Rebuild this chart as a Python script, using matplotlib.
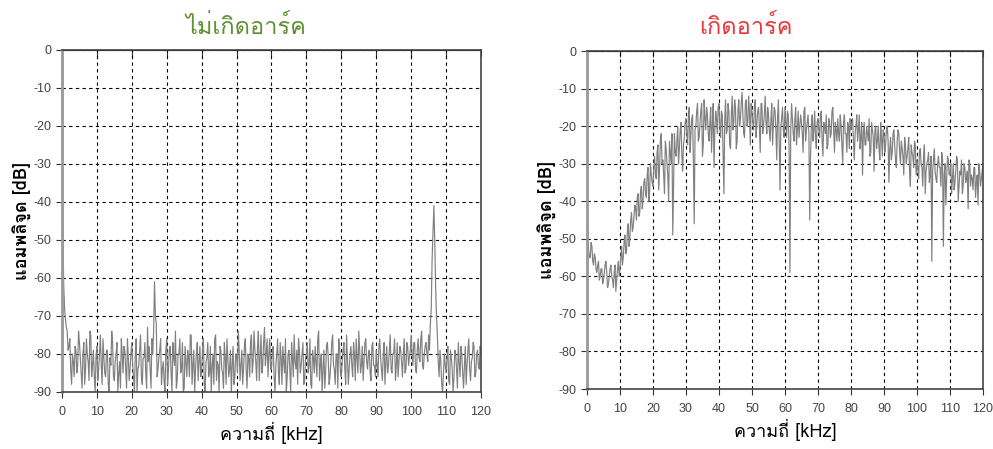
import matplotlib
matplotlib.use("Agg")
import matplotlib.pyplot as plt
from matplotlib import font_manager, ft2font
import numpy as np

# frequency axis (kHz), 0.25 kHz steps
freq = np.arange(0, 120.25, 0.25)

# no arc spectrum [dB] at 0, 0.5, 1.0 ... 120 kHz
no_arc_a = [
    -33, -62, -71, -74, -78, -84, -80, -86, -79, -83, -77, -85, -80, -88, -76, -82, -74, -86, -79, -90,
    -78, -84, -75, -88, -81, -86, -79, -90, -83, -77, -87, -80, -90, -82, -76, -85, -79, -89, -81, -84,
    -77, -86, -80, -90, -83, -75, -88, -81, -85, -73, -78, -89, -80, -61, -72, -84, -79, -88, -82, -90,
    -76, -84, -78, -90, -81, -74, -87, -80, -85, -77, -89, -82, -79, -86, -75, -83, -90, -80, -87, -78,
    -84, -76, -90, -81, -86, -78, -83, -88, -75, -82, -90, -79, -85, -77, -88, -81, -84, -90, -78, -86,
    -80, -74, -87, -79, -84, -76, -89, -81, -77, -85, -74, -82, -78, -87, -75, -83, -73, -80, -86, -76,
    -84, -78, -90, -80, -85, -77, -88, -82, -76, -86, -79, -90, -81, -75, -84, -88, -79, -83, -77, -87,
    -80, -85, -76, -89, -81, -78, -86, -74, -83, -90, -79, -85, -77, -88, -82, -75, -84, -80, -89, -78,
    -86, -79, -84, -75, -88, -80, -83, -77, -87, -81, -74, -85, -78, -82, -76, -84, -79, -87, -77, -83,
    -79, -86, -76, -84, -80, -88, -78, -83, -75, -85, -80, -87, -77, -82, -79, -86, -76, -84, -78, -81,
    -75, -83, -77, -85, -76, -82, -74, -84, -78, -80, -75, -72, -55, -41, -62, -75, -86, -82, -90, -80,
    -85, -78, -88, -81, -90, -79, -84, -77, -86, -80, -89, -78, -83, -76, -87, -81, -78, -85, -79, -84,
    -80,
]
# no arc spectrum [dB] at 0.25, 0.75 ... 119.75 kHz
no_arc_b = [
    -45, -68, -73, -79, -76, -88, -82, -78, -85, -74, -81, -89, -77, -84, -80, -87, -75, -83, -86, -81,
    -87, -80, -83, -76, -85, -79, -88, -81, -74, -86, -82, -77, -85, -89, -80, -78, -84, -76, -87, -80,
    -83, -90, -76, -84, -79, -86, -81, -77, -89, -82, -84, -76, -74, -70, -86, -81, -76, -84, -87, -79,
    -88, -79, -85, -77, -83, -89, -80, -76, -84, -90, -78, -86, -81, -75, -88, -79, -84, -77, -82, -86,
    -79, -88, -82, -77, -85, -90, -80, -76, -87, -83, -78, -84, -89, -81, -76, -86, -79, -83, -88, -80,
    -85, -79, -83, -88, -78, -84, -80, -86, -75, -82, -79, -87, -74, -81, -85, -77, -83, -76, -80, -84,
    -79, -86, -83, -76, -88, -81, -78, -85, -90, -80, -84, -77, -86, -82, -79, -76, -85, -80, -88, -81,
    -77, -83, -88, -79, -85, -82, -76, -87, -80, -84, -89, -78, -81, -86, -77, -83, -88, -80, -76, -85,
    -82, -77, -88, -81, -84, -78, -86, -80, -76, -85, -79, -83, -87, -77, -82, -80, -85, -78, -83, -86,
    -83, -78, -81, -87, -77, -82, -85, -79, -84, -80, -76, -83, -86, -78, -82, -80, -85, -77, -83, -79,
    -80, -77, -84, -79, -81, -76, -83, -80, -77, -82, -79, -68, -48, -50, -70, -82, -79, -88, -85, -83,
    -81, -87, -79, -84, -86, -80, -89, -82, -78, -85, -83, -88, -79, -84, -82, -77, -86, -80, -83, -78,
]

# arc spectrum [dB] at 0, 0.5, 1.0 ... 120 kHz
arc_a = [
    -50, -53, -55, -52, -57, -55, -59, -56, -60, -58, -61, -57, -59, -62, -58, -60, -63, -57, -61, -56,
    -58, -52, -55, -49, -53, -46, -50, -43, -47, -41, -45, -38, -43, -36, -40, -34, -39, -31, -37, -33,
    -36, -28, -34, -25, -31, -22, -29, -38, -26, -33, -24, -30, -49, -22, -28, -20, -26, -19, -32, -23,
    -18, -25, -15, -22, -17, -46, -20, -14, -23, -16, -28, -13, -21, -17, -24, -15, -20, -31, -16, -22,
    -14, -23, -17, -38, -13, -21, -16, -26, -12, -19, -15, -24, -13, -18, -11, -22, -14, -20, -12, -25,
    -16, -21, -13, -19, -15, -27, -14, -20, -12, -22, -17, -24, -14, -19, -16, -29, -13, -37, -18, -21,
    -15, -23, -17, -59, -14, -22, -18, -25, -16, -20, -19, -27, -15, -21, -17, -45, -20, -24, -16, -26,
    -18, -23, -16, -28, -20, -17, -25, -19, -22, -15, -27, -21, -18, -24, -20, -30, -17, -22, -19, -26,
    -21, -18, -29, -20, -24, -17, -23, -33, -19, -25, -22, -18, -27, -21, -32, -20, -24, -26, -19, -28,
    -22, -25, -20, -35, -23, -27, -21, -29, -24, -22, -30, -26, -33, -25, -28, -23, -36, -27, -31, -25,
    -29, -34, -26, -31, -28, -38, -30, -27, -33, -56, -29, -32, -35, -28, -31, -27, -52, -30, -34, -29,
    -33, -38, -30, -35, -28, -40, -32, -29, -36, -31, -34, -42, -30, -33, -37, -31, -35, -41, -32, -34,
    -30,
]
# arc spectrum [dB] at 0.25, 0.75 ... 119.75 kHz
arc_b = [
    -48, -55, -51, -56, -54, -58, -57, -61, -58, -62, -59, -56, -63, -60, -57, -61, -59, -64, -58, -60,
    -55, -57, -51, -54, -48, -52, -45, -48, -44, -42, -39, -44, -37, -42, -35, -38, -33, -40, -30, -35,
    -31, -33, -27, -37, -24, -30, -33, -24, -30, -40, -27, -22, -35, -27, -24, -30, -21, -28, -25, -19,
    -22, -17, -27, -18, -30, -21, -16, -24, -19, -14, -25, -18, -15, -22, -19, -27, -14, -21, -18, -15,
    -20, -16, -28, -18, -22, -14, -25, -17, -21, -13, -26, -16, -20, -14, -17, -23, -13, -19, -16, -14,
    -19, -15, -23, -16, -20, -14, -22, -17, -19, -15, -21, -18, -25, -15, -21, -18, -24, -20, -15, -23,
    -19, -16, -26, -21, -18, -24, -15, -21, -23, -17, -22, -16, -24, -19, -22, -28, -17, -21, -23, -19,
    -21, -17, -24, -19, -22, -26, -18, -23, -16, -21, -19, -24, -22, -17, -25, -19, -22, -27, -20, -18,
    -19, -24, -22, -17, -21, -26, -19, -22, -25, -20, -24, -28, -19, -23, -21, -26, -20, -29, -23, -21,
    -27, -21, -24, -26, -29, -22, -25, -31, -21, -27, -24, -28, -23, -30, -26, -32, -25, -28, -24, -33,
    -31, -27, -30, -36, -25, -32, -29, -35, -28, -32, -26, -34, -30, -31, -36, -29, -33, -41, -28, -33,
    -30, -34, -37, -32, -29, -36, -33, -38, -30, -35, -32, -29, -36, -34, -31, -39, -33, -30, -36, -32,
]

titles = ["ไม่เกิดอาร์ค", "เกิดอาร์ค"]
title_colors = ["#5f9130", "#e8383d"]
xlabel = "ความถี่ [kHz]"
ylabel = "แอมพลิจูด [dB]"
xticks = list(range(0, 121, 10))
yticks = list(range(0, -91, -10))


def merge(a, b):
    out = np.empty(len(a) + len(b))
    out[0::2] = a
    out[1::2] = b
    return out


# look for any installed font that has Thai glyphs
def find_thai_font():
    for f in font_manager.fontManager.ttflist:
        try:
            ft = ft2font.FT2Font(f.fname)
            if 0x0E01 in ft.get_charmap():
                return f.name
        except Exception:
            pass
    return None


thai = find_thai_font()
thai_fams = [thai, "DejaVu Sans"] if thai else ["DejaVu Sans"]
plt.rcParams["font.family"] = ["Liberation Sans Narrow", "Liberation Sans", "DejaVu Sans"]
plt.rcParams["axes.unicode_minus"] = False

fig = plt.figure(figsize=(9.93, 4.49), dpi=100)
boxes = [[0.0624, 0.127, 0.422, 0.762], [0.5911, 0.1336, 0.3988, 0.7528]]
title_x = [0.248, 0.751]
series = [merge(no_arc_a, no_arc_b), merge(arc_a, arc_b)]

for i, data in enumerate(series):
    ax = fig.add_axes(boxes[i])
    ax.plot(freq, data, color="#808080", lw=0.85)
    ax.set_xlim(0, 120)
    ax.set_ylim(-90, 0)
    ax.set_xticks(xticks)
    ax.set_yticks(yticks)
    ax.grid(True, color="black", linestyle=(0, (3, 3)), lw=0.8)
    ax.tick_params(labelsize=9, labelcolor="#444444", length=4, color="#333333")
    ax.tick_params(axis="x", pad=6)
    for s in ax.spines.values():
        s.set_color("#444444")
        s.set_linewidth(1.2)
    ax.spines["left"].set_color("#999999")
    ax.spines["left"].set_linewidth(2)
    top = ax.secondary_xaxis("top")
    top.set_xticks(xticks)
    top.tick_params(direction="in", labeltop=False, length=4, color="#333333")
    fig.text(title_x[i], 0.94, titles[i], color=title_colors[i], fontsize=17,
             family=thai_fams, ha="center", va="center")
    ax.set_xlabel(xlabel, fontsize=13, labelpad=3, family=thai_fams)
    ax.set_ylabel(ylabel, fontsize=13, labelpad=2, family=thai_fams, fontweight="bold")

fig.savefig("out.png", dpi=100)
